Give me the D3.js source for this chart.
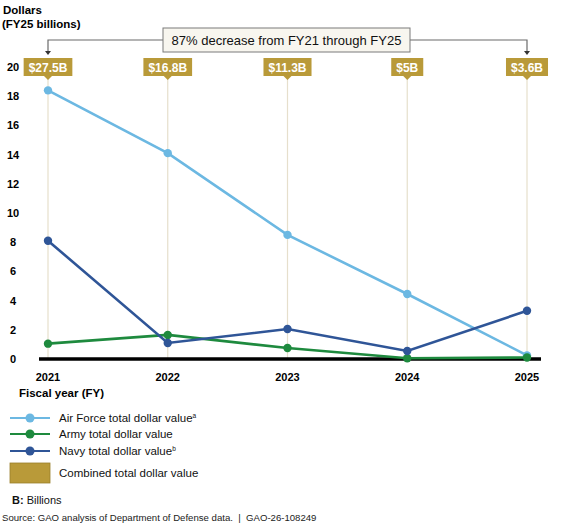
<!DOCTYPE html>
<html>
<head>
<meta charset="utf-8">
<script src="https://cdn.jsdelivr.net/npm/d3@7"></script>
<style>
  body { margin: 0; background: #fff; }
  svg { display: block; font-family: Arial, "Liberation Sans", sans-serif; }
</style>
</head>
<body>
<svg id="chart" width="584" height="524"></svg>
<script>
// data (FY25 billions)
const years = [2021, 2022, 2023, 2024, 2025];
const airForce = [18.4, 14.1, 8.5, 4.45, 0.25];
const army = [1.05, 1.65, 0.75, 0.05, 0.1];
const navy = [8.1, 1.1, 2.05, 0.55, 3.3];
const combinedLabels = ["$27.5B", "$16.8B", "$11.3B", "$5B", "$3.6B"];
const yTicks = [0, 2, 4, 6, 8, 10, 12, 14, 16, 18, 20];

const series = [
  { name: "Air Force total dollar value", sup: "a", color: "#6cb8e2", values: airForce },
  { name: "Army total dollar value", sup: "", color: "#1e8a3e", values: army },
  { name: "Navy total dollar value", sup: "b", color: "#2f5597", values: navy }
];

const gold = "#b99a39";
const svg = d3.select("#chart");

const x = d3.scalePoint().domain(years).range([48, 527]);
const y = d3.scaleLinear().domain([0, 20]).range([359, 67]);

// axis titles
svg.append("text").attr("x", 3).attr("y", 14)
  .attr("font-size", 11.5).attr("font-weight", "bold").text("Dollars");
svg.append("text").attr("x", 2).attr("y", 28)
  .attr("font-size", 11.5).attr("font-weight", "bold").text("(FY25 billions)");

// vertical grid lines per year
svg.append("g").selectAll("line").data(years).join("line")
  .attr("x1", d => x(d)).attr("x2", d => x(d))
  .attr("y1", 76).attr("y2", y(0))
  .attr("stroke", "#e6dfcc").attr("stroke-width", 1.2);

// y tick labels
svg.append("g").selectAll("text").data(yTicks).join("text")
  .attr("x", 13).attr("y", d => y(d) + 4)
  .attr("text-anchor", "middle")
  .attr("font-size", 11).attr("font-weight", "bold")
  .text(d => d);

// x tick labels
svg.append("g").selectAll("text").data(years).join("text")
  .attr("x", d => x(d)).attr("y", 381)
  .attr("text-anchor", "middle")
  .attr("font-size", 11).attr("font-weight", "bold")
  .text(d => d);

svg.append("text").attr("x", 19).attr("y", 397)
  .attr("font-size", 11.5).attr("font-weight", "bold").text("Fiscal year (FY)");

// baseline
svg.append("line")
  .attr("x1", 39).attr("x2", 541).attr("y1", y(0)).attr("y2", y(0))
  .attr("stroke", "#000").attr("stroke-width", 3.5);

// bracket annotation
const x0 = x(years[0]), x1 = x(years[years.length - 1]);
svg.append("path")
  .attr("d", `M${x0},52 V40 H${x1} V52`)
  .attr("fill", "none").attr("stroke", "#6b6b6b").attr("stroke-width", 1.2);
[x0, x1].forEach(px => {
  svg.append("path")
    .attr("d", `M${px - 3},51 L${px + 3},51 L${px},55 Z`)
    .attr("fill", "#333");
});
svg.append("rect")
  .attr("x", 163).attr("y", 28).attr("width", 247).attr("height", 24)
  .attr("fill", "#f8f6ef").attr("stroke", "#7a7a7a").attr("stroke-width", 1);
svg.append("text")
  .attr("x", (163 + 410) / 2).attr("y", 45)
  .attr("text-anchor", "middle").attr("font-size", 13).attr("fill", "#111")
  .text("87% decrease from FY21 through FY25");

// combined total gold labels
const tags = svg.append("g").selectAll("g").data(years).join("g")
  .attr("transform", d => `translate(${x(d)},0)`);
tags.append("text")
  .attr("y", 71.5).attr("text-anchor", "middle")
  .attr("font-size", 12).attr("font-weight", "bold").attr("fill", "#fff")
  .text((d, i) => combinedLabels[i]);
tags.each(function () {
  const g = d3.select(this);
  const w = g.select("text").node().getComputedTextLength() + 10;
  g.insert("path", "text")
    .attr("d", `M${-w / 2},58 H${w / 2} V76 H4 L0,80 L-4,76 H${-w / 2} Z`)
    .attr("fill", gold);
});

// lines and points
const line = d3.line().x((d, i) => x(years[i])).y(d => y(d));
series.forEach(s => {
  svg.append("path")
    .attr("d", line(s.values))
    .attr("fill", "none").attr("stroke", s.color).attr("stroke-width", 2.6);
  svg.append("g").selectAll("circle").data(s.values).join("circle")
    .attr("cx", (d, i) => x(years[i])).attr("cy", d => y(d))
    .attr("r", 4.2).attr("fill", s.color);
});

// legend
const legY = [418, 434, 451];
series.forEach((s, i) => {
  const g = svg.append("g").attr("transform", `translate(0,${legY[i]})`);
  g.append("line").attr("x1", 10).attr("x2", 50)
    .attr("stroke", s.color).attr("stroke-width", 2.2);
  g.append("circle").attr("cx", 30).attr("r", 4.5).attr("fill", s.color);
  const t = g.append("text").attr("x", 59).attr("y", 4)
    .attr("font-size", 11.5).attr("fill", "#111").text(s.name);
  if (s.sup) {
    t.append("tspan").attr("font-size", 6.5).attr("dy", -4).text(s.sup);
  }
});
svg.append("rect").attr("x", 10).attr("y", 463).attr("width", 40).attr("height", 20)
  .attr("fill", gold).attr("stroke", "#9a7f2c").attr("stroke-width", 0.8);
svg.append("text").attr("x", 59).attr("y", 477)
  .attr("font-size", 11.5).attr("fill", "#111").text("Combined total dollar value");

// notes
const note = svg.append("text").attr("x", 12).attr("y", 504).attr("font-size", 11).attr("fill", "#111");
note.append("tspan").attr("font-weight", "bold").text("B:");
note.append("tspan").text(" Billions");
svg.append("text").attr("x", 2).attr("y", 521)
  .attr("font-size", 9.6).attr("fill", "#222")
  .style("white-space", "pre")
  .text("Source: GAO analysis of Department of Defense data.  |  GAO-26-108249");
</script>
</body>
</html>
